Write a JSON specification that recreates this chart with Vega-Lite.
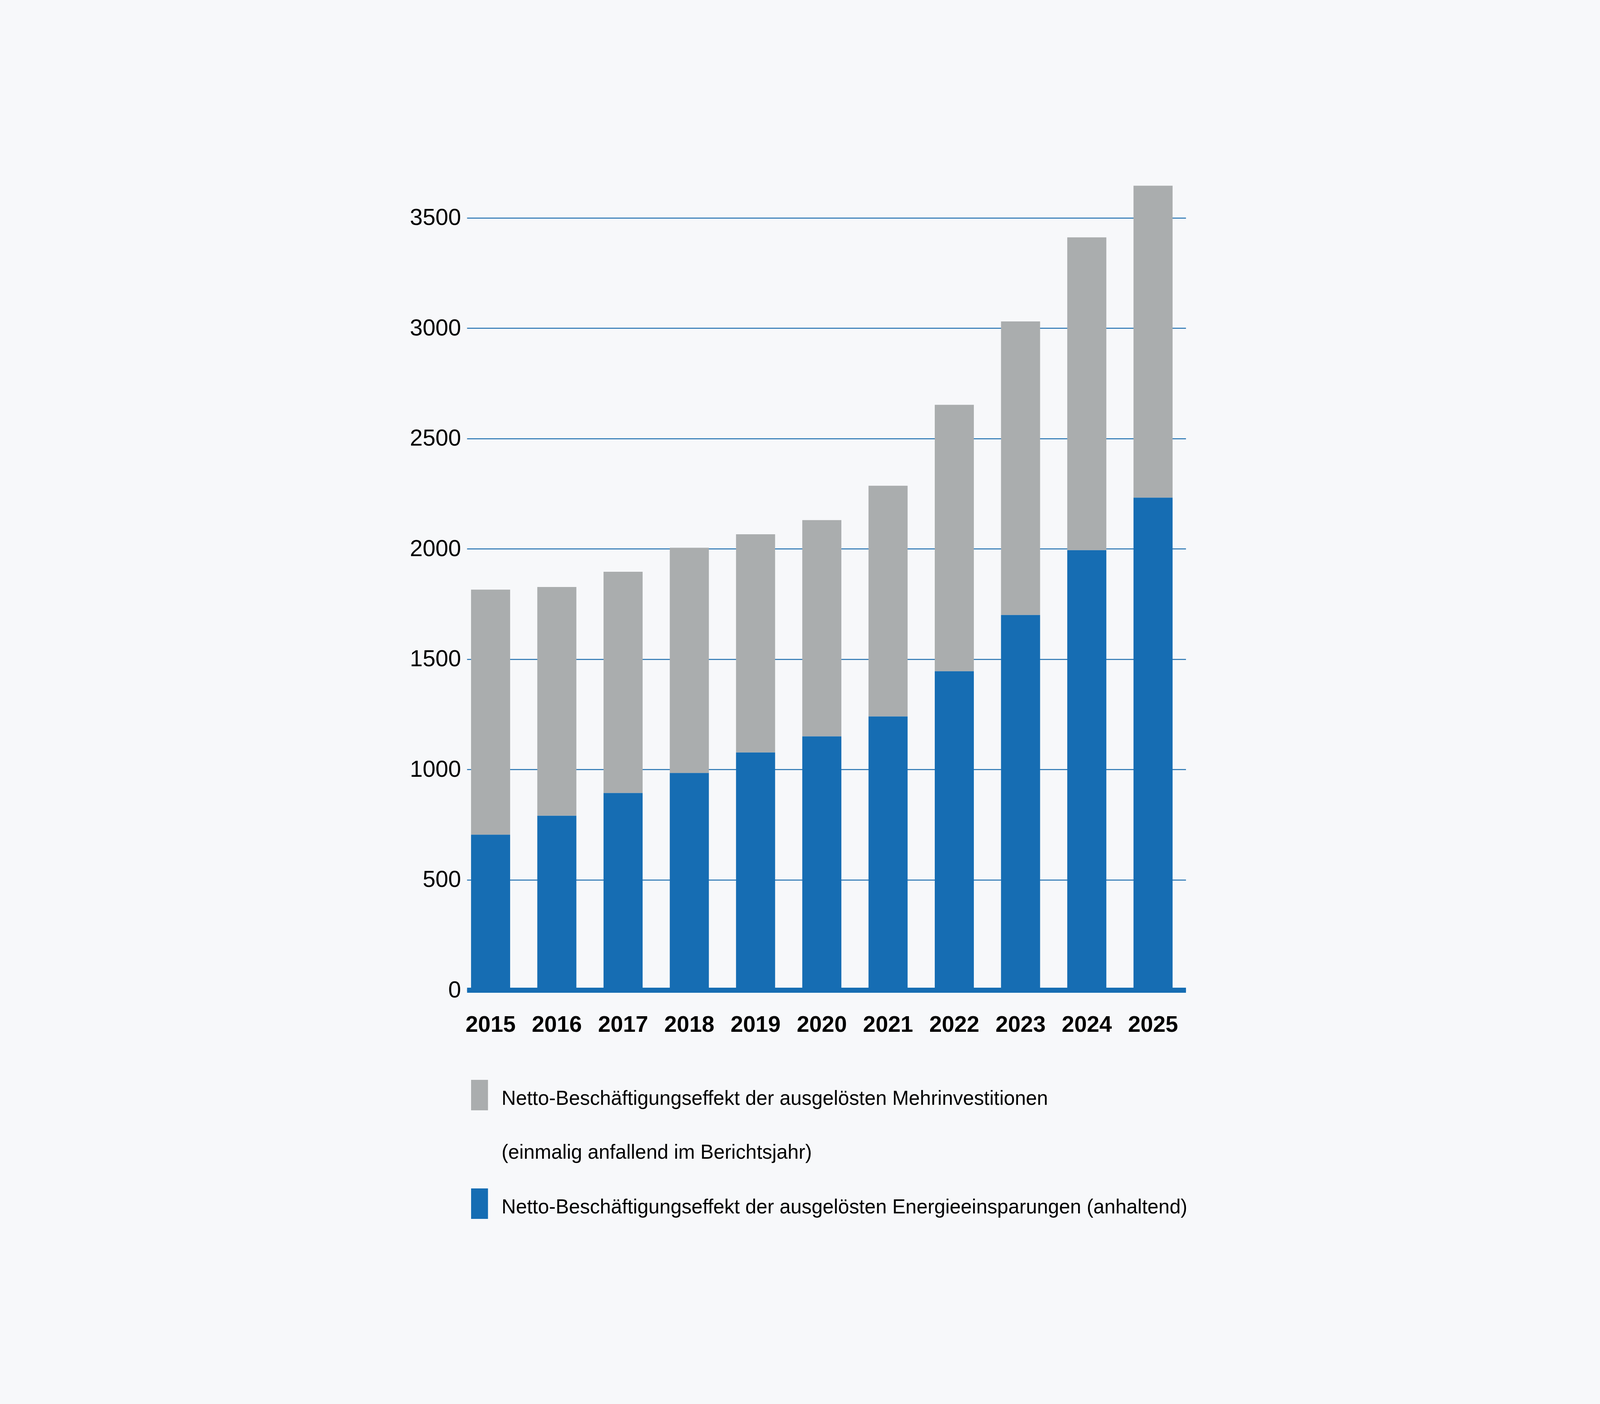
{
  "$schema": "https://vega.github.io/schema/vega-lite/v6.json",
  "width": 7200,
  "height": 2090,
  "autosize": {"type": "fit-x", "contains": "padding"},
  "padding": {"expr": "{left: min(windowSize()[0], 7200)*0.29167 - 195.7*pow(min(windowSize()[0], 7200)/7200, 0.71) - 27*min(windowSize()[0], 7200)/7200, top: 445, right: 7200 - min(windowSize()[0], 7200)*0.74111, bottom: 1000}"},
  "background": "#f7f8fa",
  "params": [
    {"name": "r", "expr": "min(windowSize()[0], 7200)/7200"}
  ],
  "data": {
    "values": [
      {"Jahr": "2015", "Effekt": "Mehrinvestitionen", "Rang": 2, "Wert": 1111},
      {"Jahr": "2015", "Effekt": "Energieeinsparungen", "Rang": 1, "Wert": 704},
      {"Jahr": "2016", "Effekt": "Mehrinvestitionen", "Rang": 2, "Wert": 1037},
      {"Jahr": "2016", "Effekt": "Energieeinsparungen", "Rang": 1, "Wert": 790},
      {"Jahr": "2017", "Effekt": "Mehrinvestitionen", "Rang": 2, "Wert": 1003},
      {"Jahr": "2017", "Effekt": "Energieeinsparungen", "Rang": 1, "Wert": 893},
      {"Jahr": "2018", "Effekt": "Mehrinvestitionen", "Rang": 2, "Wert": 1021},
      {"Jahr": "2018", "Effekt": "Energieeinsparungen", "Rang": 1, "Wert": 984},
      {"Jahr": "2019", "Effekt": "Mehrinvestitionen", "Rang": 2, "Wert": 989},
      {"Jahr": "2019", "Effekt": "Energieeinsparungen", "Rang": 1, "Wert": 1077},
      {"Jahr": "2020", "Effekt": "Mehrinvestitionen", "Rang": 2, "Wert": 980},
      {"Jahr": "2020", "Effekt": "Energieeinsparungen", "Rang": 1, "Wert": 1150},
      {"Jahr": "2021", "Effekt": "Mehrinvestitionen", "Rang": 2, "Wert": 1046},
      {"Jahr": "2021", "Effekt": "Energieeinsparungen", "Rang": 1, "Wert": 1240},
      {"Jahr": "2022", "Effekt": "Mehrinvestitionen", "Rang": 2, "Wert": 1208},
      {"Jahr": "2022", "Effekt": "Energieeinsparungen", "Rang": 1, "Wert": 1445},
      {"Jahr": "2023", "Effekt": "Mehrinvestitionen", "Rang": 2, "Wert": 1331},
      {"Jahr": "2023", "Effekt": "Energieeinsparungen", "Rang": 1, "Wert": 1700},
      {"Jahr": "2024", "Effekt": "Mehrinvestitionen", "Rang": 2, "Wert": 1418},
      {"Jahr": "2024", "Effekt": "Energieeinsparungen", "Rang": 1, "Wert": 1994},
      {"Jahr": "2025", "Effekt": "Mehrinvestitionen", "Rang": 2, "Wert": 1414},
      {"Jahr": "2025", "Effekt": "Energieeinsparungen", "Rang": 1, "Wert": 2232}
    ]
  },
  "mark": {"type": "bar"},
  "encoding": {
    "x": {
      "field": "Jahr",
      "type": "ordinal",
      "scale": {"paddingInner": 0.41, "paddingOuter": 0.131, "align": 0.24},
      "axis": {
        "title": null,
        "zindex": 1,
        "domainColor": "#166db3",
        "domainWidth": 13,
        "ticks": false,
        "labelAngle": 0,
        "labelPadding": 60,
        "labelLimit": 0,
        "labelFont": "Liberation Sans",
        "labelFontWeight": "bold",
        "labelFontSize": {"expr": "88*pow(r, 0.75)"},
        "labelColor": "#000000"
      }
    },
    "y": {
      "field": "Wert",
      "type": "quantitative",
      "stack": "zero",
      "scale": {"domain": [0, 3700], "nice": false},
      "axis": {
        "title": null,
        "zindex": 0,
        "values": [0, 500, 1000, 1500, 2000, 2500, 3000, 3500],
        "format": "d",
        "domain": false,
        "ticks": false,
        "grid": true,
        "gridColor": "#1f6faf",
        "gridWidth": 2.5,
        "labelPadding": {"expr": "27*r"},
        "labelLimit": 0,
        "labelFont": "Liberation Sans",
        "labelFontSize": {"expr": "88*pow(r, 0.71)"},
        "labelColor": "#000000"
      }
    },
    "order": {"field": "Rang", "type": "quantitative"},
    "color": {
      "field": "Effekt",
      "type": "nominal",
      "scale": {
        "domain": ["Mehrinvestitionen", "Energieeinsparungen"],
        "range": ["#aaadae", "#166db3"]
      },
      "legend": {
        "title": null,
        "orient": "none",
        "legendX": {"expr": "57*r - 39"},
        "legendY": 2320,
        "direction": "vertical",
        "symbolType": {"expr": "'M' + (-0.975*r) + ',-1H' + (0.975*r) + 'V1H' + (-0.975*r) + 'Z'"},
        "symbolSize": 6084,
        "symbolStrokeWidth": 0,
        "symbolOpacity": 1,
        "labelFont": "Liberation Sans",
        "labelFontSize": {"expr": "86*pow(r, 0.93)"},
        "labelColor": "#000000",
        "labelLimit": 0,
        "labelOffset": {"expr": "99*r - 39"},
        "labelBaseline": "middle",
        "rowPadding": 66,
        "labelExpr": "datum.label == 'Mehrinvestitionen' ? ['Netto-Beschäftigungseffekt der ausgelösten Mehrinvestitionen', '(einmalig anfallend im Berichtsjahr)'] : 'Netto-Beschäftigungseffekt der ausgelösten Energieeinsparungen (anhaltend)'",
        "encode": {
          "labels": {"update": {"lineHeight": {"value": 138}, "dy": {"value": 10}}}
        }
      }
    }
  },
  "config": {
    "view": {"stroke": null},
    "legend": {"symbolLimit": 0}
  }
}
